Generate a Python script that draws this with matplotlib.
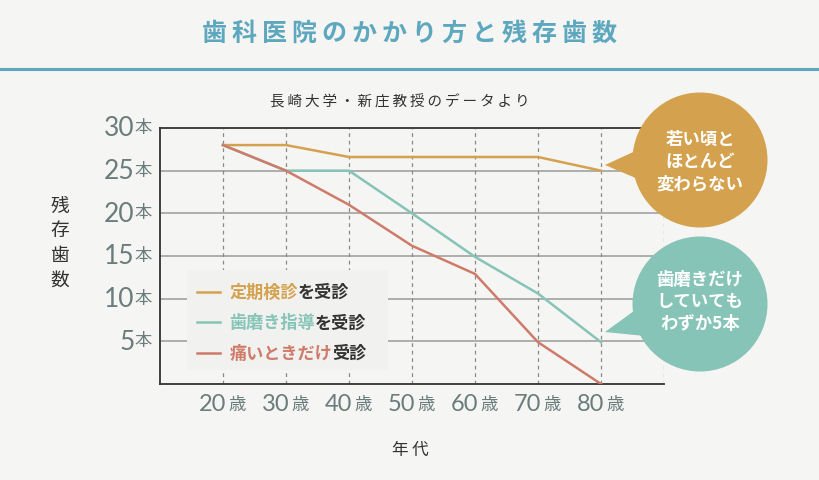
import matplotlib
matplotlib.use("Agg")
import matplotlib.pyplot as plt
from matplotlib.lines import Line2D
from matplotlib.patches import Circle, Polygon, Rectangle

# ── data ─────────────────────────────────────────────
ages = [20, 30, 40, 50, 60, 70, 80]
age_labels = ["20", "30", "40", "50", "60", "70", "80"]
checkup = [28, 28, 26.6, 26.6, 26.6, 26.6, 25]          # 定期検診を受診
brushing = [28, 25, 25, 20, 14.9, 10.6, 4.9]            # 歯磨き指導を受診
pain_only = [28, 25, 21.0, 16.2, 12.9, 4.9, 0]          # 痛いときだけ受診
y_ticks = [5, 10, 15, 20, 25, 30]

series_prefix = ["定期検診", "歯磨き指導", "痛いときだけ"]
series_suffix = ["を受診", "を受診", "受診"]

BG = "#f5f5f3"
GOLD = "#d4a24f"
TEAL = "#86c4b7"
RED = "#cf7b6a"
BLUE = "#5ea8bf"
GRAY = "#6a7c7c"
DARK = "#333333"
JP = ["Noto Sans CJK JP", "DejaVu Sans"]
NUM = ["Lato", "DejaVu Sans"]

plt.rcParams["font.family"] = JP

fig = plt.figure(figsize=(8.2, 4.8), dpi=100, facecolor=BG)
ax = fig.add_axes([160 / 820, 96 / 480, 504 / 820, 256 / 480])
ax.set_facecolor(BG)

# header
fig.text(0.5, 1 - 34 / 480, "\u2009".join("歯科医院のかかり方と残存歯数"),
         ha="center", va="center", fontsize=18, fontweight="bold", color=BLUE)
fig.add_artist(Line2D([0, 1], [1 - 69 / 480] * 2, color=BLUE, lw=2.2,
                      transform=fig.transFigure))
fig.text(0.488, 1 - 102 / 480, "\u2009".join("長崎大学・新庄教授のデータより"),
         ha="center", va="center", fontsize=10.5, color=DARK)

# grid & frame
ax.set_xlim(10, 90)
ax.set_ylim(0, 30)
for y in y_ticks[:-1]:
    ax.axhline(y, color="#9a9a9a", lw=1.1, zorder=1)
for x in ages + [90]:
    ax.axvline(x, color="#8a8a8a", lw=0.9, ls=(0, (3, 3)), zorder=1)
for s in ["left", "top", "bottom"]:
    ax.spines[s].set_color(DARK)
    ax.spines[s].set_linewidth(1.3)
ax.spines["right"].set_visible(False)
ax.set_xticks([])
ax.set_yticks([])

# lines
l1, = ax.plot(ages, checkup, color=GOLD, lw=1.8, zorder=3)
l2, = ax.plot(ages, brushing, color=TEAL, lw=1.8, zorder=3)
l3, = ax.plot(ages, pain_only, color=RED, lw=1.8, zorder=4)

# y tick labels
for y in y_ticks:
    ax.annotate(str(y), xy=(0, y), xycoords=("axes fraction", "data"),
                xytext=(-18.3, -0.5), textcoords="offset points", ha="right",
                va="center", fontsize=19, family=NUM, color=GRAY)
    ax.annotate("本", xy=(0, y), xycoords=("axes fraction", "data"),
                xytext=(-5.6, 0), textcoords="offset points", ha="right",
                va="center", fontsize=12.5, color=GRAY)

# x tick labels
for x, lab in zip(ages, age_labels):
    ax.annotate(lab, xy=(x, 0), xycoords=("data", "axes fraction"),
                xytext=(2.4, -15), textcoords="offset points", ha="right",
                va="center", fontsize=17, family=NUM, color=GRAY)
    ax.annotate("歳", xy=(x, 0), xycoords=("data", "axes fraction"),
                xytext=(3.6, -15.3), textcoords="offset points", ha="left",
                va="center", fontsize=12.5, color=GRAY)

fig.text(0.5, 1 - 450 / 480, "年\u2009代", ha="center", va="center",
         fontsize=12, color=DARK)
fig.text(60 / 820, 1 - 243 / 480, "残\n存\n歯\n数", ha="center", va="center",
         fontsize=13.5, color=DARK, linespacing=1.22)

# legend: background box, coloured prefix + dark suffix
ax.add_patch(Rectangle((27 / 504, 14 / 256), 201 / 504, 100 / 256,
                       transform=ax.transAxes, facecolor="#f1f1ef",
                       edgecolor="none", zorder=5))
leg = ax.legend([l1, l2, l3], series_prefix, loc="upper left",
                bbox_to_anchor=(37 / 504, 100 / 256), frameon=False,
                handlelength=1.35, handletextpad=0.55,
                labelspacing=0.72, borderpad=0, borderaxespad=0,
                labelcolor=[GOLD, TEAL, RED], prop={"weight": "bold", "size": 12.3})
leg.set_zorder(6)
for txt, suf in zip(leg.get_texts(), series_suffix):
    ax.annotate(suf, xy=(1, 0.5), xycoords=txt, ha="left", va="center",
                fontsize=12.3, fontweight="bold", color=DARK, zorder=7)

# speech bubbles (inch coordinates)
tr = fig.dpi_scale_trans
bubbles = [
    (GOLD, 160, [(6.05, 3.15), (6.42, 3.32), (6.45, 2.98)], "若い頃と\nほとんど\n変わらない", 162),
    (TEAL, 304, [(6.05, 1.48), (6.45, 1.77), (6.45, 1.44)], "歯磨きだけ\nしていても\nわずか5本", 302),
]
for col, cy, tri, label, ty in bubbles:
    fig.add_artist(Polygon(tri, closed=True, color=col, transform=tr, lw=0))
    fig.add_artist(Circle((7.0, (480 - cy) / 100), 0.675, color=col, transform=tr, lw=0))
    fig.text(7.0, (480 - ty) / 100, label, transform=tr, ha="center", va="center",
             fontsize=12.5, color="white", fontweight="bold", linespacing=1.3)

fig.savefig("out.png", dpi=100, facecolor=BG)
